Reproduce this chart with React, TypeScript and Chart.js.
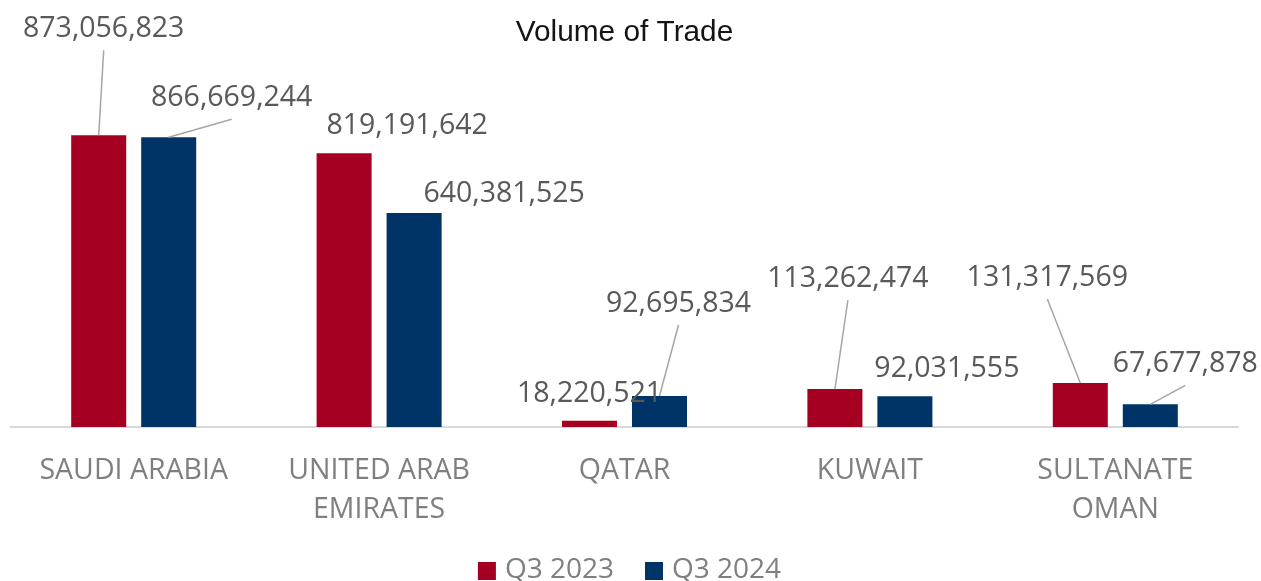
import React, { useEffect, useRef } from "react";
import { Chart, registerables } from "chart.js";

Chart.register(...registerables);

// ---- data ----
const categories: (string | string[])[] = [
  "SAUDI ARABIA",
  ["UNITED ARAB", "EMIRATES"],
  "QATAR",
  "KUWAIT",
  ["SULTANATE", "OMAN"],
];
const seriesNames = ["Q3 2023", "Q3 2024"];
const q3_2023 = [873056823, 819191642, 18220521, 113262474, 131317569];
const q3_2024 = [866669244, 640381525, 92695834, 92031555, 67677878];
const yMax = 1000000000;

// ---- styles ----
const colors = ["#A50021", "#003366"];
const titleText = "Volume of Trade";

// label placement relative to bar top centre (style only)
const labelPlacement = [
  [
    { dx: 5, dy: -108, leader: true },
    { dx: 63, dy: -29, leader: false },
    { dx: 0, dy: -29, leader: false },
    { dx: 13, dy: -112, leader: true },
    { dx: -33, dy: -107, leader: true },
  ],
  [
    { dx: 63, dy: -41, leader: true },
    { dx: 90, dy: -21, leader: false },
    { dx: 19, dy: -94, leader: true },
    { dx: 42, dy: -29, leader: false },
    { dx: 35, dy: -42, leader: true },
  ],
];

const dataLabelPlugin = {
  id: "dataLabelsLeader",
  afterDatasetsDraw(chart: any) {
    const ctx = chart.ctx;
    ctx.save();
    ctx.font = "28.5px 'Open Sans'";
    ctx.textAlign = "center";
    ctx.textBaseline = "middle";
    chart.data.datasets.forEach((ds: any, di: number) => {
      const meta = chart.getDatasetMeta(di);
      meta.data.forEach((el: any, i: number) => {
        const p = labelPlacement[di][i];
        const bx = el.x;
        const by = el.y;
        const lx = bx + p.dx;
        const ly = by + p.dy;
        if (p.leader) {
          ctx.strokeStyle = "#A6A6A6";
          ctx.lineWidth = 1.5;
          ctx.beginPath();
          ctx.moveTo(lx, ly + 23);
          ctx.lineTo(bx, by);
          ctx.stroke();
        }
        ctx.fillStyle = "#595959";
        ctx.fillText(Number(ds.data[i]).toLocaleString("en-US"), lx, ly + 2);
      });
    });
    ctx.restore();
  },
};

const legendPlugin = {
  id: "customLegend",
  afterDraw(chart: any) {
    const ctx = chart.ctx;
    ctx.save();
    ctx.font = "28px 'Open Sans'";
    ctx.textBaseline = "middle";
    ctx.textAlign = "left";
    const box = 18;
    const gap = 9;
    const itemGap = 31;
    const items = chart.data.datasets.map((ds: any) => ({
      text: ds.label,
      color: ds.backgroundColor,
      w: ctx.measureText(ds.label).width,
    }));
    const total =
      items.reduce((s: number, it: any) => s + box + gap + it.w, 0) +
      itemGap * (items.length - 1);
    let x = chart.width / 2 - 1 - total / 2;
    const cy = 571;
    items.forEach((it: any) => {
      ctx.fillStyle = it.color;
      ctx.fillRect(x, cy - box / 2, box, box);
      ctx.fillStyle = "#7F7F7F";
      ctx.fillText(it.text, x + box + gap, cy - 1);
      x += box + gap + it.w + itemGap;
    });
    ctx.restore();
  },
};

export default function App() {
  const ref = useRef<HTMLCanvasElement | null>(null);
  useEffect(() => {
    if (!ref.current) return;
    const chart = new Chart(ref.current, {
      type: "bar",
      data: {
        labels: categories,
        datasets: [
          {
            label: seriesNames[0],
            data: q3_2023,
            backgroundColor: colors[0],
            categoryPercentage: 0.5705,
            barPercentage: 0.786,
          },
          {
            label: seriesNames[1],
            data: q3_2024,
            backgroundColor: colors[1],
            categoryPercentage: 0.5705,
            barPercentage: 0.786,
          },
        ],
      },
      options: {
        responsive: false,
        animation: false,
        layout: { padding: { left: 11, right: 23, top: 0, bottom: 28 } },
        plugins: {
          legend: { display: false },
          tooltip: { enabled: false },
          title: {
            display: true,
            text: titleText,
            color: "#141414",
            font: { family: "'Liberation Sans', Arial", size: 29.8, weight: "normal", lineHeight: 1.2 },
            padding: { top: 15, bottom: 42 },
          },
        },
        scales: {
          x: {
            grid: { display: false, drawTicks: false },
            border: { display: true, color: "#D9D9D9", width: 2 },
            ticks: {
              color: "#7F7F7F",
              font: { family: "'Open Sans'", size: 28.5, lineHeight: 1.37 },
              padding: 24,
              maxRotation: 0,
              autoSkip: false,
            },
          },
          y: {
            display: false,
            min: 0,
            max: yMax,
          },
        },
      },
      plugins: [dataLabelPlugin, legendPlugin],
    });
    return () => chart.destroy();
  }, []);
  return (
    <div style={{ position: "fixed", left: 0, top: 0, width: 1261, height: 581, background: "#fff" }}>
      <canvas ref={ref} width={1261} height={581} style={{ display: "block" }} />
    </div>
  );
}
